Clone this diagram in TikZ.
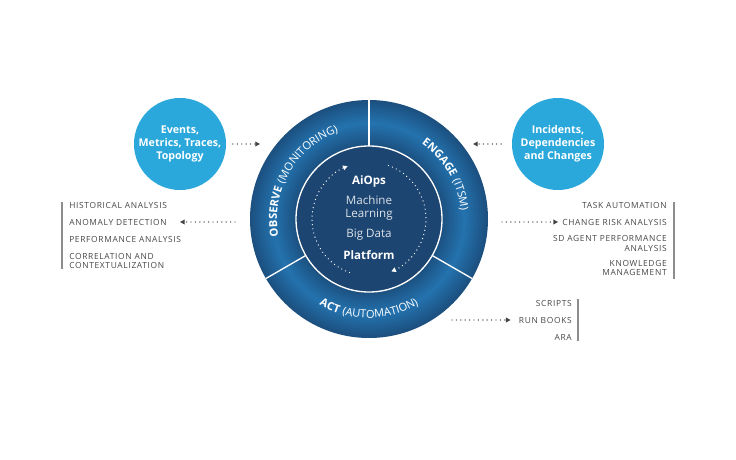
\documentclass[tikz,border=0pt]{standalone}
\usepackage{fontspec}
\setmainfont{Open Sans}
\newfontfamily\listfam[LetterSpace=8]{Open Sans}
\newfontfamily\ringfam[LetterSpace=7]{Open Sans}
\usetikzlibrary{arrows.meta,decorations.text}
\definecolor{ringdark}{HTML}{194672}
\definecolor{ringlight}{HTML}{2473AF}
\definecolor{coreblue}{HTML}{1C4571}
\definecolor{bubbleblue}{HTML}{2AA8DB}
\definecolor{listgray}{HTML}{484848}
\definecolor{bargray}{HTML}{8C8C8C}
\definecolor{dotgray}{HTML}{444444}
\newcommand{\ringfont}{\ringfam\fontsize{8.3}{9}\selectfont}
\newcommand{\RingLabel}[5]{
	\path[decorate, decoration={text along path, text align=center, text color=white,
		text={|\ringfont\bfseries|#4 |\ringfont|#5}}]
		(ctr) ++(#1:#3) arc[start angle=#1, end angle=#2, radius=#3];
}
\tikzset{
	bubble/.style={circle, fill=bubbleblue, minimum size=69pt, inner sep=0pt, align=center,
		text=white, font=\bfseries\fontsize{8}{9.8}\selectfont},
	listitem/.style={text=listgray, inner sep=0pt, font=\listfam\fontsize{6.3}{6.8}\selectfont},
	flow/.style={dotgray, line width=1.1pt, line cap=round, dash pattern=on 0pt off 3.3pt,
		-{Triangle[length=3.5pt,width=3.5pt]}},
	loopflow/.style={white, line width=1pt, line cap=round, dash pattern=on 0pt off 3.2pt,
		-{Triangle[length=3.5pt,width=3.5pt]}},
	bar/.style={bargray, line width=1.1pt},
	coretext/.style={inner sep=0pt, align=center, text=white!85!coreblue, font=\fontsize{8.7}{9.4}\selectfont},
	corebold/.style={inner sep=0pt, text=white, font=\bfseries\fontsize{8.7}{10}\selectfont}
}
\begin{document}
\begin{tikzpicture}[x=0.75pt,y=0.75pt]
	\useasboundingbox[fill=white] (0,0) rectangle (736,-460);
	\coordinate (ctr) at (369,-219);
	\foreach \rad in {119,118,...,73}{
		\pgfmathtruncatemacro{\p}{max(0,100-3.4*abs(\rad-96))}
		\fill[ringlight!\p!ringdark] (ctr) circle[radius=\rad];
	}
	\fill[coreblue] (ctr) circle[radius=73];
	\draw[white, line width=1pt] (ctr) circle[radius=73];
	\foreach \a in {90,210,330}
		\draw[white, line width=1pt] (ctr) ++(\a:73) -- ++(\a:46);
	\RingLabel{200}{100}{92}{OBSERVE}{(MONITORING)}
	\RingLabel{75}{-15}{92}{ENGAGE}{(ITSM)}
	\RingLabel{220}{320}{99}{ACT}{(AUTOMATION)}
	\node[corebold] (aiops) at (369,-181) {AiOps};
	\node[coretext] (ml) at (369,-208) {Machine\\Learning};
	\node[coretext] (bigdata) at (369,-235) {Big Data};
	\node[corebold] (platform) at (369,-255) {Platform};
	\draw[loopflow] (ctr) ++(250:57) arc[start angle=250, end angle=112, radius=57];
	\draw[loopflow] (ctr) ++(70:57) arc[start angle=70, end angle=-67, radius=57];
	\node[bubble] (signals) at (180,-144) {Events,\\Metrics, Traces,\\Topology};
	\node[bubble] (changes) at (558,-144) {Incidents,\\Dependencies\\and Changes};
	\coordinate (obsin) at (260,-144);
	\coordinate (engin) at (473,-144);
	\draw[flow] ([xshift=5pt]signals.east) -- (obsin);
	\draw[flow] ([xshift=-8pt]changes.west) -- (engin);
	\node[listitem, anchor=west] (hist) at (69,-205) {HISTORICAL ANALYSIS};
	\node[listitem, anchor=west] (anomaly) at (69,-222) {ANOMALY DETECTION};
	\node[listitem, anchor=west] (perf) at (69,-239) {PERFORMANCE ANALYSIS};
	\node[listitem, anchor=west, align=left] (corr) at (69,-261) {CORRELATION AND\\CONTEXTUALIZATION};
	\draw[bar] (62,-202) -- (62,-269);
	\node[listitem, anchor=east] (task) at (667,-205) {TASK AUTOMATION};
	\node[listitem, anchor=east] (changerisk) at (667,-222) {CHANGE RISK ANALYSIS};
	\node[listitem, anchor=east, align=right] (agent) at (667,-243.5) {SD AGENT PERFORMANCE\\ANALYSIS};
	\node[listitem, anchor=east, align=right] (know) at (667,-268) {KNOWLEDGE\\MANAGEMENT};
	\draw[bar] (674,-202) -- (674,-279);
	\node[listitem, anchor=east] (scripts) at (572,-303) {SCRIPTS};
	\node[listitem, anchor=east] (runbooks) at (572,-320) {RUN BOOKS};
	\node[listitem, anchor=east] (ara) at (572,-337) {ARA};
	\draw[bar] (578,-299) -- (578,-341);
	\coordinate (obsout) at (235,-222);
	\coordinate (engout) at (502,-222);
	\coordinate (actout) at (452,-320);
	\draw[flow] (obsout) -- ([xshift=9.75pt]anomaly.east);
	\draw[flow] (engout) -- ([xshift=-3pt]changerisk.west);
	\draw[flow] (actout) -- ([xshift=-6pt]runbooks.west);
\end{tikzpicture}
\end{document}
